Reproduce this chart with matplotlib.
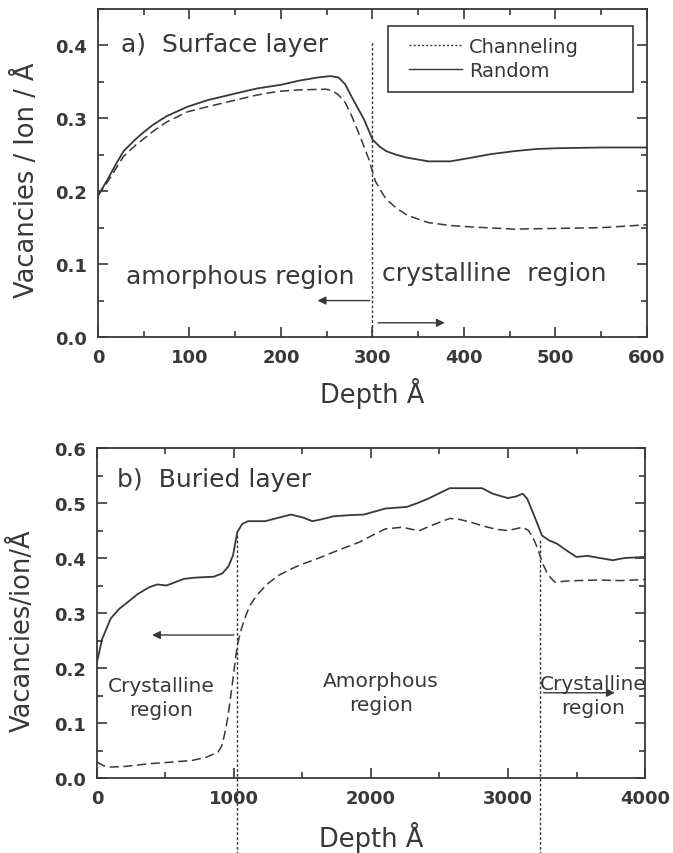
import matplotlib
matplotlib.use("Agg")
import matplotlib.pyplot as plt
from matplotlib.lines import Line2D
from matplotlib.patches import Rectangle
from matplotlib.ticker import MultipleLocator

# ---- Panel a) Surface layer ----
a_rand_x = [0, 10, 20, 28, 40, 49, 60, 75, 98, 120, 150, 174, 200, 221, 240, 254, 263,
            270, 277, 284, 291, 300, 308, 315, 326, 338, 361, 385, 408, 430, 455, 480, 502, 550, 600]
a_rand_y = [0.194, 0.215, 0.238, 0.255, 0.270, 0.280, 0.291, 0.303, 0.316, 0.325, 0.334, 0.341, 0.346, 0.352, 0.356, 0.358, 0.356,
            0.347, 0.330, 0.314, 0.298, 0.271, 0.261, 0.255, 0.250, 0.246, 0.241, 0.241, 0.246, 0.251, 0.255, 0.258, 0.259, 0.260, 0.260]

a_chan_x = [0, 10, 20, 28, 40, 49, 60, 75, 98, 120, 150, 174, 197, 220, 249, 256, 263,
            270, 276, 282, 289, 296, 303, 310, 315, 326, 338, 361, 385, 408, 455, 502, 550, 600]
a_chan_y = [0.194, 0.212, 0.232, 0.248, 0.262, 0.271, 0.282, 0.295, 0.309, 0.316, 0.325, 0.332, 0.337, 0.339, 0.340, 0.338, 0.332,
            0.322, 0.307, 0.289, 0.267, 0.244, 0.214, 0.199, 0.189, 0.177, 0.167, 0.157, 0.153, 0.151, 0.148, 0.149, 0.150, 0.154]

# ---- Panel b) Buried layer ----
b_rand_x = [0, 38, 100, 160, 225, 300, 382, 440, 507, 570, 633, 700, 760, 852, 915, 960, 993, 1024, 1060, 1103,
            1228, 1320, 1416, 1500, 1572, 1650, 1729, 1850, 1948, 2105, 2262, 2340, 2418, 2500, 2575, 2731,
            2810, 2888, 2998, 3060, 3107, 3140, 3170, 3210, 3248, 3300, 3358, 3420, 3499, 3580, 3671, 3765, 3850, 4000]
b_rand_y = [0.211, 0.253, 0.290, 0.307, 0.320, 0.335, 0.347, 0.352, 0.350, 0.356, 0.362, 0.364, 0.365, 0.366, 0.372, 0.385, 0.405, 0.447, 0.462, 0.467,
            0.467, 0.473, 0.479, 0.474, 0.467, 0.471, 0.476, 0.478, 0.479, 0.490, 0.493, 0.500, 0.508, 0.518, 0.527, 0.527,
            0.527, 0.517, 0.509, 0.512, 0.517, 0.508, 0.490, 0.465, 0.441, 0.432, 0.426, 0.415, 0.402, 0.404, 0.400, 0.396, 0.400, 0.402]

b_chan_x = [0, 50, 100, 200, 382, 550, 695, 800, 883, 910, 930, 955, 977, 1000, 1024, 1055, 1087, 1120, 1165, 1240, 1322,
            1400, 1478, 1600, 1729, 1800, 1917, 2000, 2105, 2230, 2300, 2355, 2450, 2575, 2650, 2731, 2820, 2919, 3000,
            3107, 3150, 3186, 3220, 3248, 3290, 3342, 3420, 3514, 3650, 3827, 4000]
b_chan_y = [0.029, 0.022, 0.020, 0.021, 0.026, 0.029, 0.032, 0.038, 0.047, 0.058, 0.078, 0.110, 0.150, 0.195, 0.241, 0.272, 0.296, 0.315, 0.332, 0.352, 0.368,
            0.378, 0.387, 0.398, 0.411, 0.418, 0.429, 0.440, 0.453, 0.456, 0.452, 0.450, 0.460, 0.472, 0.470, 0.465, 0.458, 0.452, 0.450,
            0.456, 0.450, 0.435, 0.415, 0.393, 0.370, 0.356, 0.358, 0.359, 0.360, 0.359, 0.361]

C = "#383838"
plt.rcParams["font.family"] = "DejaVu Sans"

fig = plt.figure(figsize=(6.73, 8.54), dpi=100)
ax1 = fig.add_axes([0.1456, 0.6042, 0.8157, 0.3841])
ax2 = fig.add_axes([0.1441, 0.0878, 0.8143, 0.3864])

def style(ax):
    for s in ax.spines.values():
        s.set_color(C)
        s.set_linewidth(1.3)
    ax.tick_params(which="both", direction="in", top=True, right=True, colors=C,
                   labelcolor=C, width=1.2)
    ax.tick_params(which="major", length=7, labelsize=13, pad=8)
    ax.tick_params(which="minor", length=4)
    for lab in ax.get_xticklabels() + ax.get_yticklabels():
        lab.set_fontweight("bold")

# Panel a
ax1.plot(a_rand_x, a_rand_y, color=C, lw=1.3, ls="-")
ax1.plot(a_chan_x, a_chan_y, color=C, lw=1.1, ls=(0, (6, 3)))
ax1.set_xlim(0, 600)
ax1.set_ylim(0, 0.45)
ax1.xaxis.set_major_locator(MultipleLocator(100))
ax1.xaxis.set_minor_locator(MultipleLocator(50))
ax1.yaxis.set_major_locator(MultipleLocator(0.1))
ax1.yaxis.set_minor_locator(MultipleLocator(0.05))
ax1.set_xticks([0, 100, 200, 300, 400, 500, 600])
ax1.set_xticklabels(["0", "100", "200", "300", "400", "500", "600"])
ax1.set_yticks([0.0, 0.1, 0.2, 0.3, 0.4])
ax1.set_yticklabels(["0.0", "0.1", "0.2", "0.3", "0.4"])
style(ax1)
ax1.set_xlabel("Depth Å", fontsize=18.5, color=C, labelpad=8)
ax1.set_ylabel("Vacancies / Ion / Å", fontsize=18.5, color=C)
ax1.yaxis.set_label_coords(-0.105, 0.482)
ax1.plot([300, 300], [0, 0.405], color=C, lw=1.0, ls=(0, (2, 1.5)))
ax1.annotate("", xy=(237, 0.05), xytext=(300, 0.05),
             arrowprops=dict(arrowstyle="-|>", color=C, lw=1.0, mutation_scale=12))
ax1.annotate("", xy=(382, 0.0195), xytext=(303, 0.0195),
             arrowprops=dict(arrowstyle="-|>", color=C, lw=1.0, mutation_scale=12))
ax1.text(156, 0.084, "amorphous region", fontsize=18, color=C, ha="center", va="center")
ax1.text(433, 0.088, "crystalline  region", fontsize=18, color=C, ha="center", va="center")
ax1.text(25, 0.402, "a)  Surface layer", fontsize=18, color=C, ha="left", va="center")
ax1.add_patch(Rectangle((0.528, 0.747), 0.447, 0.200, transform=ax1.transAxes,
                        fill=False, edgecolor=C, lw=1.2, zorder=4))
handles = [Line2D([], [], color=C, lw=1.0, ls=(0, (1.5, 1.5))),
           Line2D([], [], color=C, lw=1.0, ls="-")]
leg = ax1.legend(handles, ["Channeling", "Random"], loc="center left",
                 bbox_to_anchor=(0.566, 0.85), fontsize=14, frameon=False,
                 handlelength=2.75, borderpad=0, labelspacing=0.25,
                 handletextpad=0.35, borderaxespad=0)
for t in leg.get_texts():
    t.set_color(C)

# Panel b
ax2.plot(b_rand_x, b_rand_y, color=C, lw=1.3, ls="-")
ax2.plot(b_chan_x, b_chan_y, color=C, lw=1.1, ls=(0, (6, 3)))
ax2.set_xlim(0, 4000)
ax2.set_ylim(0, 0.6)
ax2.xaxis.set_major_locator(MultipleLocator(1000))
ax2.xaxis.set_minor_locator(MultipleLocator(500))
ax2.yaxis.set_major_locator(MultipleLocator(0.1))
ax2.yaxis.set_minor_locator(MultipleLocator(0.05))
ax2.set_xticks([0, 1000, 2000, 3000, 4000])
ax2.set_xticklabels(["0", "1000", "2000", "3000", "4000"])
ax2.set_yticks([0.0, 0.1, 0.2, 0.3, 0.4, 0.5, 0.6])
ax2.set_yticklabels(["0.0", "0.1", "0.2", "0.3", "0.4", "0.5", "0.6"])
style(ax2)
ax2.set_xlabel("Depth Å", fontsize=18.5, color=C, labelpad=10)
ax2.set_ylabel("Vacancies/ion/Å", fontsize=18.5, color=C)
ax2.yaxis.set_label_coords(-0.111, 0.448)
ax2.plot([1020, 1020], [-0.23, 0.447], color=C, lw=1.0, ls=(0, (2, 1.5)), clip_on=False)
ax2.plot([3232, 3232], [-0.23, 0.435], color=C, lw=1.0, ls=(0, (2, 1.5)), clip_on=False)
ax2.annotate("", xy=(382, 0.26), xytext=(1020, 0.26),
             arrowprops=dict(arrowstyle="-|>", color=C, lw=1.0, mutation_scale=12))
ax2.annotate("", xy=(3800, 0.155), xytext=(3240, 0.155),
             arrowprops=dict(arrowstyle="-|>", color=C, lw=1.0, mutation_scale=12))
ax2.text(470, 0.146, "Crystalline\nregion", fontsize=14.5, color=C, ha="center", va="center",
         linespacing=1.35)
ax2.text(2074, 0.156, "Amorphous\nregion", fontsize=14.5, color=C, ha="center", va="center",
         linespacing=1.35)
ax2.text(3624, 0.150, "Crystalline\nregion", fontsize=14.5, color=C, ha="center", va="center",
         linespacing=1.35)
ax2.text(145, 0.544, "b)  Buried layer", fontsize=18, color=C, ha="left", va="center")

fig.savefig("out.png", dpi=100, facecolor="white")
